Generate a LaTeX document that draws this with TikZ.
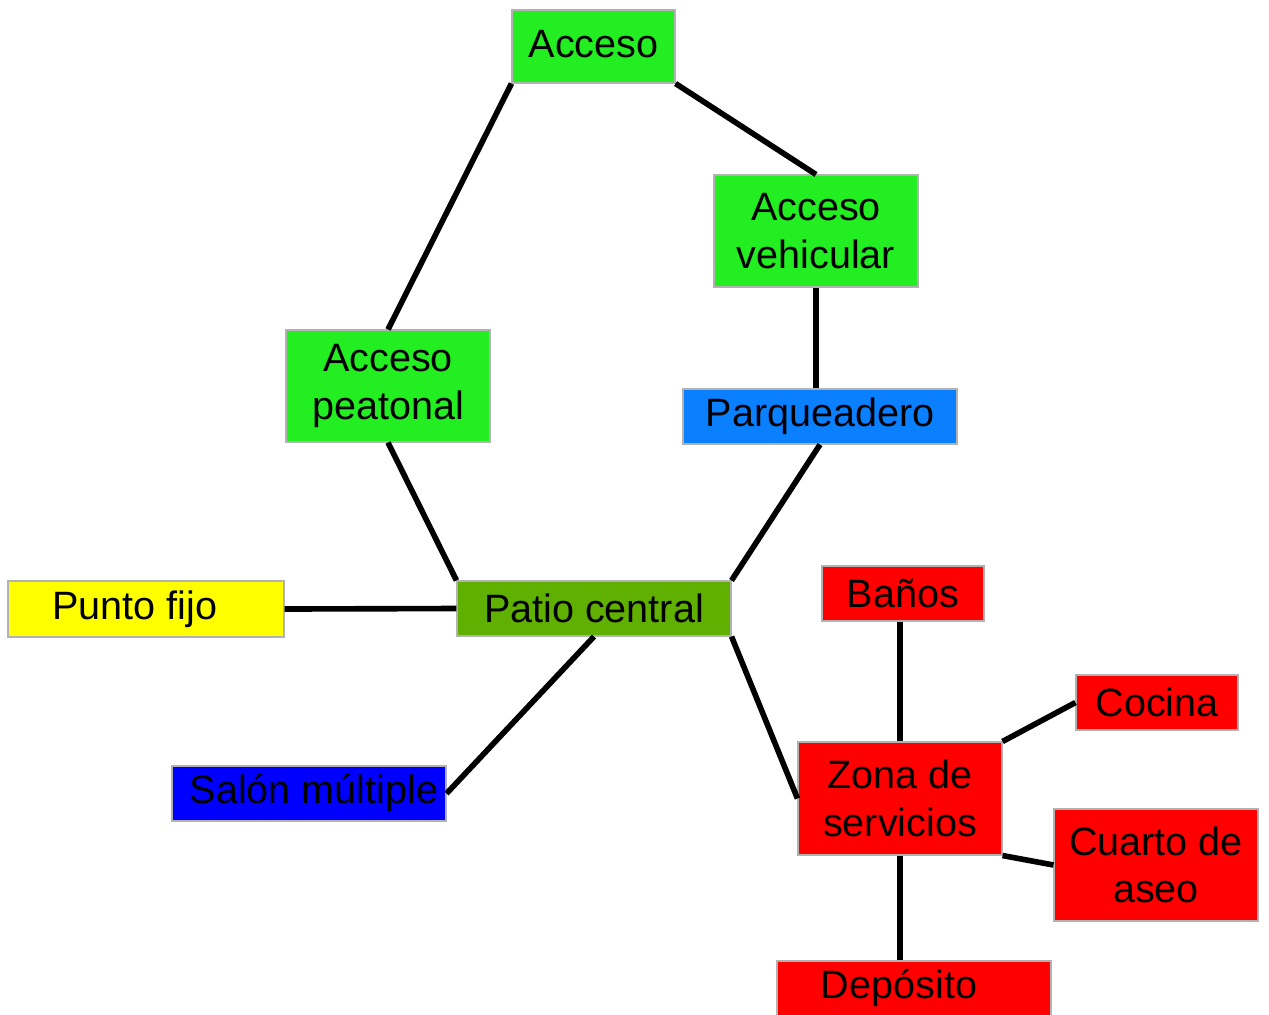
\documentclass[tikz,border=0pt]{standalone}
\usepackage{fontspec}
\setmainfont{Liberation Sans}
\definecolor{verde}{HTML}{22EE22}
\definecolor{verdeosc}{HTML}{5FB000}
\definecolor{celeste}{HTML}{0A80FF}
\definecolor{azul}{HTML}{0000FF}
\definecolor{amarillo}{HTML}{FFFF00}
\definecolor{rojo}{HTML}{FF0000}
\tikzset{
  caja/.style={draw=gray!60,line width=0.6pt,inner sep=0pt,align=center,
    font=\fontsize{22.5}{27}\selectfont},
  linea/.style={line width=3.2pt}
}
\begin{document}
\begin{tikzpicture}
\useasboundingbox[fill=white](0,0) rectangle (25.38,-20.28);
% zonas de acceso
\node[caja,fill=verde,minimum width=3.26cm,minimum height=1.46cm](acceso) at (11.87,-0.93){\raisebox{0.1cm}{Acceso}};
\node[caja,fill=verde,minimum width=4.08cm,minimum height=2.24cm](vehicular) at (16.32,-4.62){Acceso\\vehicular};
\node[caja,fill=verde,minimum width=4.08cm,minimum height=2.24cm](peatonal) at (7.76,-7.72){Acceso\\peatonal};
\node[caja,fill=celeste,minimum width=5.48cm,minimum height=1.1cm](parqueadero) at (16.4,-8.33){Parqueadero};
% centro
\node[caja,fill=verdeosc,minimum width=5.48cm,minimum height=1.1cm](patio) at (11.88,-12.17){Patio central};
\node[caja,fill=amarillo,minimum width=5.52cm,minimum height=1.12cm](punto) at (2.92,-12.18){Punto fijo\hspace*{0.45cm}};
\node[caja,fill=azul,minimum width=5.48cm,minimum height=1.1cm](salon) at (6.18,-15.87){\hspace*{0.2cm}Salón múltiple};
% servicios
\node[caja,fill=rojo,minimum width=3.24cm,minimum height=1.1cm](banos) at (18.06,-11.87){Baños};
\node[caja,fill=rojo,minimum width=3.24cm,minimum height=1.1cm](cocina) at (23.14,-14.05){Cocina};
\node[caja,fill=rojo,minimum width=4.08cm,minimum height=2.26cm](zona) at (18.0,-15.97){Zona de\\servicios};
\node[caja,fill=rojo,minimum width=4.08cm,minimum height=2.24cm](cuarto) at (23.12,-17.3){Cuarto de\\aseo};
\node[caja,fill=rojo,minimum width=5.48cm,minimum height=1.1cm](deposito) at (18.28,-19.77){Depósito\hspace*{0.6cm}};
% conexiones
\draw[linea](acceso.south west)--(peatonal.north);
\draw[linea](acceso.south east)--(vehicular.north);
\draw[linea](vehicular.south)--(vehicular.south |- parqueadero.north);
\draw[linea](peatonal.south)--(patio.north west);
\draw[linea](parqueadero.south)--(patio.north east);
\draw[linea](punto.east)--(patio.west);
\draw[linea](patio.south)--(salon.east);
\draw[linea](patio.south east)--(zona.west);
\draw[linea](zona.north |- banos.south)--(zona.north);
\draw[linea](zona.north east)--(cocina.west);
\draw[linea](zona.south east)--(cuarto.west);
\draw[linea](zona.south)--(zona.south |- deposito.north);
\end{tikzpicture}
\end{document}
